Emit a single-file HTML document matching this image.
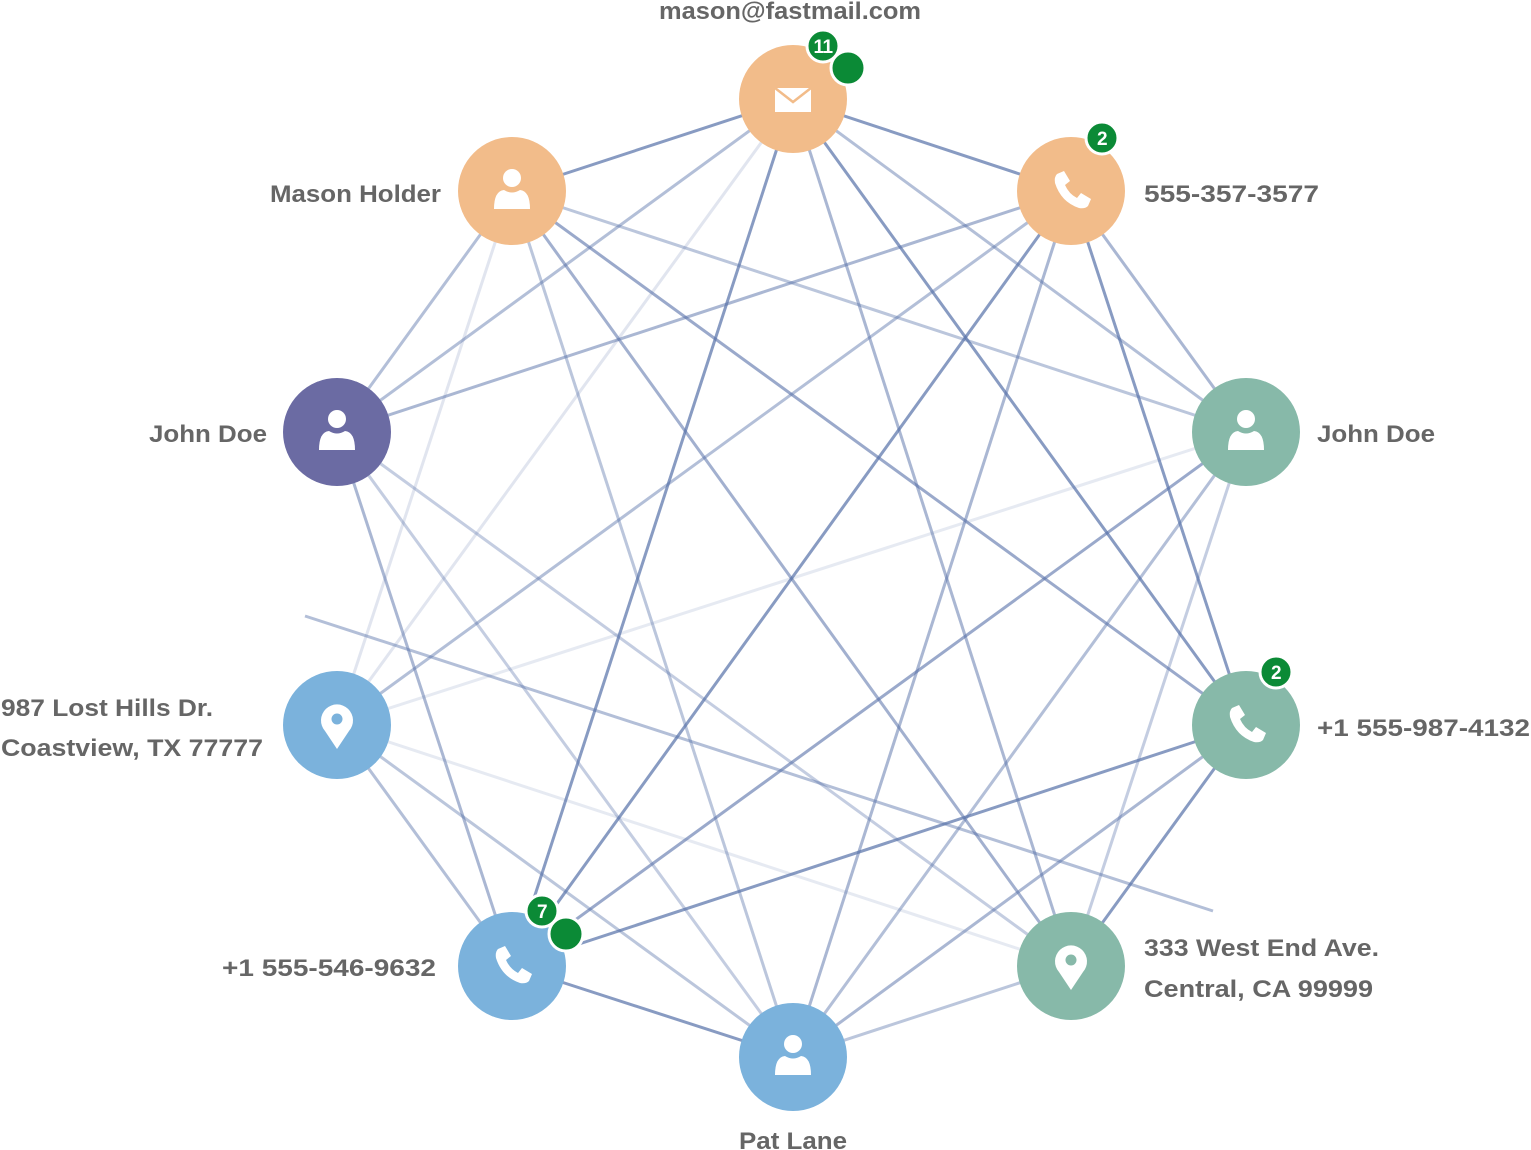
<!DOCTYPE html>
<html><head><meta charset="utf-8"><style>
html,body{margin:0;padding:0;background:#fff;width:1531px;height:1150px;overflow:hidden}
text{font-family:"Liberation Sans",Arial,sans-serif;font-weight:bold;font-size:24px;fill:#666}
.b{font-size:19px;fill:#fff;letter-spacing:-0.5px}
</style></head><body>
<svg width="1531" height="1150" viewBox="0 0 1531 1150" xmlns="http://www.w3.org/2000/svg">
<defs>
<g id="person"><circle cx="0" cy="-13" r="9" fill="#fff"/><path d="M-18 18 Q-18 0 -8 -1 Q0 4 8 -1 Q18 0 18 18 Z" fill="#fff"/></g>
<g id="phone"><path d="M-14 -17 l7 -3 l6 10 l-5 4 q4 9 12 13 l4 -5 l10 6 l-3 7 q-3 3 -9 2 q-18 -6 -24 -25 q-1 -6 2 -9z" fill="#fff"/></g>
<g id="pin"><path d="M0 24 L-12 6 A16 16 0 1 1 12 6 Z" fill="#fff"/><circle cx="0" cy="-6" r="5.5" fill="currentColor"/></g>
</defs>
<g stroke="#5670a8" stroke-width="3" fill="none">
<line x1="793" y1="99" x2="512" y2="191" opacity=".7"/>
<line x1="793" y1="99" x2="1071" y2="191" opacity=".7"/>
<line x1="793" y1="99" x2="337" y2="432" opacity=".45"/>
<line x1="793" y1="99" x2="337" y2="725" opacity=".18"/>
<line x1="793" y1="99" x2="512" y2="966" opacity=".7"/>
<line x1="793" y1="99" x2="1071" y2="966" opacity=".5"/>
<line x1="793" y1="99" x2="1246" y2="725" opacity=".7"/>
<line x1="793" y1="99" x2="1246" y2="432" opacity=".45"/>
<line x1="512" y1="191" x2="337" y2="432" opacity=".45"/>
<line x1="512" y1="191" x2="337" y2="725" opacity=".18"/>
<line x1="512" y1="191" x2="793" y2="1057" opacity=".4"/>
<line x1="512" y1="191" x2="1071" y2="966" opacity=".55"/>
<line x1="512" y1="191" x2="1246" y2="725" opacity=".6"/>
<line x1="512" y1="191" x2="1246" y2="432" opacity=".4"/>
<line x1="1071" y1="191" x2="337" y2="432" opacity=".5"/>
<line x1="1071" y1="191" x2="337" y2="725" opacity=".45"/>
<line x1="1071" y1="191" x2="512" y2="966" opacity=".7"/>
<line x1="1071" y1="191" x2="793" y2="1057" opacity=".5"/>
<line x1="1071" y1="191" x2="1246" y2="725" opacity=".7"/>
<line x1="1071" y1="191" x2="1246" y2="432" opacity=".5"/>
<line x1="337" y1="432" x2="512" y2="966" opacity=".5"/>
<line x1="337" y1="432" x2="793" y2="1057" opacity=".35"/>
<line x1="337" y1="432" x2="1071" y2="966" opacity=".35"/>
<line x1="1246" y1="432" x2="337" y2="725" opacity=".15"/>
<line x1="1246" y1="432" x2="512" y2="966" opacity=".6"/>
<line x1="1246" y1="432" x2="793" y2="1057" opacity=".45"/>
<line x1="1246" y1="432" x2="1071" y2="966" opacity=".35"/>
<line x1="337" y1="725" x2="512" y2="966" opacity=".45"/>
<line x1="337" y1="725" x2="793" y2="1057" opacity=".4"/>
<line x1="337" y1="725" x2="1071" y2="966" opacity=".15"/>
<line x1="1246" y1="725" x2="512" y2="966" opacity=".7"/>
<line x1="1246" y1="725" x2="793" y2="1057" opacity=".5"/>
<line x1="1246" y1="725" x2="1071" y2="966" opacity=".7"/>
<line x1="512" y1="966" x2="793" y2="1057" opacity=".7"/>
<line x1="1071" y1="966" x2="793" y2="1057" opacity=".4"/>
<line x1="305" y1="616" x2="1213" y2="911" opacity=".45"/>
</g>
<circle cx="793" cy="99" r="54" fill="#f2bc8a"/>
<rect x="775" y="88" width="36" height="24" fill="#fff"/><path d="M775 88 L793 102 L811 88" stroke="#f2bc8a" stroke-width="2.5" fill="none"/>
<circle cx="512" cy="191" r="54" fill="#f2bc8a"/><use href="#person" x="512" y="191"/>
<circle cx="1071" cy="191" r="54" fill="#f2bc8a"/><use href="#phone" x="1071" y="191"/>
<circle cx="337" cy="432" r="54" fill="#6b6ba3"/><use href="#person" x="337" y="432"/>
<circle cx="1246" cy="432" r="54" fill="#87b9a9"/><use href="#person" x="1246" y="432"/>
<circle cx="337" cy="725" r="54" fill="#7bb2dc"/><use href="#pin" x="337" y="725" color="#7bb2dc"/>
<circle cx="1246" cy="725" r="54" fill="#87b9a9"/><use href="#phone" x="1246" y="725"/>
<circle cx="512" cy="966" r="54" fill="#7bb2dc"/><use href="#phone" x="512" y="966"/>
<circle cx="1071" cy="966" r="54" fill="#87b9a9"/><use href="#pin" x="1071" y="966" color="#87b9a9"/>
<circle cx="793" cy="1057" r="54" fill="#7bb2dc"/><use href="#person" x="793" y="1057"/>
<g fill="#0b8a36" stroke="#fff" stroke-width="3">
<circle cx="823" cy="46" r="16"/><circle cx="848" cy="68" r="17"/>
<circle cx="1102" cy="138" r="16"/>
<circle cx="1276" cy="672" r="16"/>
<circle cx="542" cy="911" r="16"/><circle cx="566" cy="934" r="17"/>
</g>
<text class="b" x="823" y="53" text-anchor="middle">11</text>
<text class="b" x="1102" y="145" text-anchor="middle">2</text>
<text class="b" x="1276" y="679" text-anchor="middle">2</text>
<text class="b" x="542" y="918" text-anchor="middle">7</text>
<text x="659" y="19" textLength="262" lengthAdjust="spacingAndGlyphs">mason@fastmail.com</text>
<text x="270" y="202" textLength="171" lengthAdjust="spacingAndGlyphs">Mason Holder</text>
<text x="1144" y="202" textLength="175" lengthAdjust="spacingAndGlyphs">555-357-3577</text>
<text x="149" y="442" textLength="118" lengthAdjust="spacingAndGlyphs">John Doe</text>
<text x="1317" y="442" textLength="118" lengthAdjust="spacingAndGlyphs">John Doe</text>
<text x="1" y="716" textLength="212" lengthAdjust="spacingAndGlyphs">987 Lost Hills Dr.</text>
<text x="1" y="756" textLength="262" lengthAdjust="spacingAndGlyphs">Coastview, TX 77777</text>
<text x="1317" y="736" textLength="213" lengthAdjust="spacingAndGlyphs">+1 555-987-4132</text>
<text x="222" y="976" textLength="214" lengthAdjust="spacingAndGlyphs">+1 555-546-9632</text>
<text x="1144" y="956" textLength="235" lengthAdjust="spacingAndGlyphs">333 West End Ave.</text>
<text x="1144" y="997" textLength="229" lengthAdjust="spacingAndGlyphs">Central, CA 99999</text>
<text x="739" y="1149" textLength="108" lengthAdjust="spacingAndGlyphs">Pat Lane</text>
</svg>
</body></html>
